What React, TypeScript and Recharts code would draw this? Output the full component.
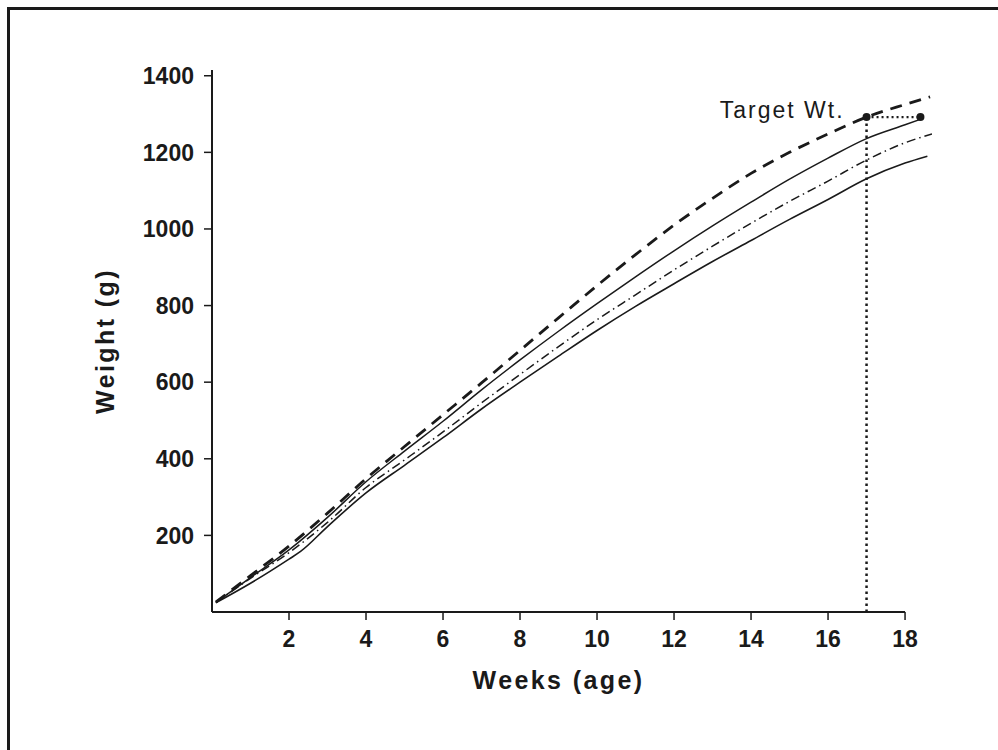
import React from 'react';
import { LineChart, Line, XAxis, YAxis, ReferenceLine, ReferenceDot, Label } from 'recharts';

const FONT = '"Liberation Sans", Arial, Helvetica, sans-serif';
const INK = '#1a1a1a';

const xTicks = [2, 4, 6, 8, 10, 12, 14, 16, 18];
const yTicks = [200, 400, 600, 800, 1000, 1200, 1400];

// Upper dashed curve
const dashedWeeks = [0.1, 1, 2, 3, 4, 5, 6, 7, 8, 9, 10, 11, 12, 13, 14, 15, 16, 17, 18, 18.65];
const dashedWeights = [26, 95, 172, 258, 348, 432, 515, 598, 683, 768, 852, 933, 1010, 1080, 1145, 1200, 1248, 1292, 1325, 1345];

// Upper solid curve
const upperWeeks = [0.1, 1, 2, 3, 4, 5, 6, 7, 8, 9, 10, 11, 12, 13, 14, 15, 16, 17, 18, 18.45];
const upperWeights = [25, 90, 162, 247, 340, 420, 498, 580, 658, 733, 805, 875, 943, 1008, 1070, 1130, 1185, 1236, 1272, 1288];

// Dash-dot curve
const dashDotWeeks = [0.1, 1, 2, 3, 4, 5, 6, 7, 8, 9, 10, 11, 12, 13, 14, 15, 16, 17, 18, 18.7];
const dashDotWeights = [25, 88, 155, 234, 325, 397, 470, 546, 620, 693, 763, 828, 893, 955, 1015, 1072, 1125, 1180, 1225, 1248];

// Lower solid curve
const lowerWeeks = [0.1, 1, 2, 2.3, 3, 4, 5, 6, 7, 8, 9, 10, 11, 12, 13, 14, 15, 16, 17, 18, 18.58];
const lowerWeights = [24, 75, 138, 158, 223, 311, 383, 455, 530, 600, 668, 735, 798, 857, 915, 970, 1025, 1077, 1131, 1172, 1190];

const targetWeek = 17;
const targetWeight = 1292;
const targetEndWeek = 18.4;
const axisEndWeek = 18;
const xMax = 18.7;

const toPoints = (ws: number[], vs: number[]) => ws.map((w, i) => ({ week: w, weight: vs[i] }));

const tickStyle = { fill: INK, fontSize: 23, fontWeight: 700, fontFamily: FONT };

export default function App() {
  return (
    <div style={{ position: 'absolute', left: 0, top: 0, width: 998, height: 750, background: '#fff', overflow: 'hidden' }}>
      <div
        style={{
          position: 'absolute',
          left: 7,
          top: 7,
          width: 1100,
          height: 900,
          borderTop: '3px solid #1a1a1a',
          borderLeft: '3px solid #1a1a1a',
        }}
      />
      <LineChart
        width={998}
        height={750}
        margin={{ top: 70, right: 66, bottom: 78, left: 100 }}
        style={{ position: 'absolute', left: 0, top: 0 }}
      >
        <XAxis
          type="number"
          dataKey="week"
          domain={[0, xMax]}
          ticks={xTicks}
          axisLine={false}
          tickLine={{ stroke: INK, strokeWidth: 1.5 }}
          tickSize={8}
          tickMargin={11}
          height={60}
          tick={tickStyle}
          allowDataOverflow
        >
          <Label
            content={(props: any) => {
              const vb = props.viewBox || {};
              const cx = vb.x + (vb.width * axisEndWeek) / xMax / 2;
              return (
                <text x={cx} y={vb.y + 77} textAnchor="middle" fill={INK} fontSize={25} fontWeight={700} fontFamily={FONT} letterSpacing={2.4}>
                  Weeks (age)
                </text>
              );
            }}
          />
        </XAxis>
        <YAxis
          type="number"
          dataKey="weight"
          domain={[0, 1415]}
          ticks={yTicks}
          width={112}
          axisLine={{ stroke: INK, strokeWidth: 2 }}
          tickLine={{ stroke: INK, strokeWidth: 1.5 }}
          tickSize={8}
          tickMargin={10}
          tick={tickStyle}
          allowDataOverflow
        >
          <Label
            value="Weight (g)"
            angle={-90}
            position="insideLeft"
            offset={5}
            style={{ textAnchor: 'middle', fill: INK, fontSize: 25, fontWeight: 700, fontFamily: FONT, letterSpacing: 2.4 }}
          />
        </YAxis>

        <ReferenceLine segment={[{ x: 0, y: 0 }, { x: axisEndWeek, y: 0 }]} stroke={INK} strokeWidth={2} />

        <Line
          data={toPoints(lowerWeeks, lowerWeights)}
          dataKey="weight"
          type="monotone"
          stroke={INK}
          strokeWidth={1.6}
          dot={false}
          isAnimationActive={false}
        />
        <Line
          data={toPoints(dashDotWeeks, dashDotWeights)}
          dataKey="weight"
          type="monotone"
          stroke={INK}
          strokeWidth={1.5}
          strokeDasharray="9 4 1.5 4"
          dot={false}
          isAnimationActive={false}
        />
        <Line
          data={toPoints(upperWeeks, upperWeights)}
          dataKey="weight"
          type="monotone"
          stroke={INK}
          strokeWidth={1.5}
          dot={false}
          isAnimationActive={false}
        />
        <Line
          data={toPoints(dashedWeeks, dashedWeights)}
          dataKey="weight"
          type="monotone"
          stroke={INK}
          strokeWidth={2.8}
          strokeDasharray="12 8"
          dot={false}
          isAnimationActive={false}
        />

        <ReferenceLine
          segment={[{ x: targetWeek, y: 0 }, { x: targetWeek, y: targetWeight }]}
          stroke={INK}
          strokeWidth={2.5}
          strokeDasharray="2.5 3.5"
        />
        <ReferenceLine
          segment={[{ x: targetWeek, y: targetWeight }, { x: targetEndWeek, y: targetWeight }]}
          stroke={INK}
          strokeWidth={2.2}
          strokeDasharray="2 3"
        />
        <ReferenceDot x={targetWeek} y={targetWeight} r={4} fill={INK} stroke="none">
          <Label
            value="Target Wt."
            position="left"
            offset={18}
            dy={-7}
            style={{ fill: INK, fontSize: 23, fontFamily: FONT, letterSpacing: 2 }}
          />
        </ReferenceDot>
        <ReferenceDot x={targetEndWeek} y={targetWeight} r={4} fill={INK} stroke="none" />
      </LineChart>
    </div>
  );
}
